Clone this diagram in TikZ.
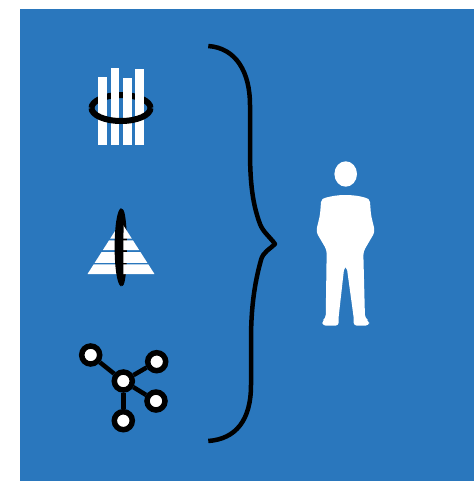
\documentclass[tikz,border=0pt]{standalone}
\usepackage{tikz}
\usetikzlibrary{positioning, calc}
\definecolor{PanelBlue}{HTML}{2A77BD}

\begin{document}
\begin{tikzpicture}[
    x=0.02cm, y=-0.02cm,
    ringLine/.style={black, line width=1.2mm},
    barFill/.style={fill=white, draw=none},
    netNode/.style={circle, draw=black, fill=white, line width=1.1mm, minimum size=0.36cm, inner sep=0pt},
    netLink/.style={black, line width=0.9mm},
    braceLine/.style={black, line width=0.9mm, line join=round},
  ]
  \useasboundingbox (0,0) rectangle (474,481);
  % panel
  \fill[PanelBlue] (20,9) rectangle (474,481);

  % bars with ring (back half, bars, front half)
  \draw[ringLine] (91.5,108) arc[start angle=180, end angle=360, x radius=29.5, y radius=13];
  \foreach \xa/\xb/\ytop in {98/106.5/76.5, 110.7/119.3/67.7, 122.7/131.5/78, 135/144/69}
    \fill[barFill] (\xa,\ytop) rectangle (\xb,145);
  \draw[ringLine] (91.5,108) arc[start angle=180, end angle=0, x radius=29.5, y radius=13];

  % pyramid with ring
  \draw[black, line width=0.8mm] (121,284.5) arc[start angle=90, end angle=-90, x radius=4, y radius=37];
  \foreach \ya/\yb in {221.7/238.6, 240.4/250.2, 252/262.9, 264.3/274} {
    \pgfmathsetmacro{\wa}{0.64*(\ya-221.7)}
    \pgfmathsetmacro{\wb}{0.64*(\yb-221.7)}
    \fill[white] (121-\wa,\ya) -- (121+\wa,\ya) -- (121+\wb,\yb) -- (121-\wb,\yb) -- cycle;
  }
  \fill[black] (121,208) .. controls (112.5,212) and (112.5,282) .. (121,286.5)
    .. controls (124,284) and (123.3,268) .. (123.3,247)
    .. controls (123.3,226) and (125,211) .. (121,208) -- cycle;

  % network
  \node[netNode] (hub) at (123.3,381) {};
  \node[netNode] (nodeA) at (90.7,355) {};
  \node[netNode] (nodeB) at (156.7,361.7) {};
  \node[netNode] (nodeC) at (156,401) {};
  \node[netNode] (nodeD) at (123.3,420.7) {};
  \foreach \n in {nodeA, nodeB, nodeC, nodeD}
    \draw[netLink] (hub) -- (\n);

  % brace
  \draw[braceLine] (208.3,46) .. controls (236,48) and (250,72) .. (250,105)
    -- (250,150) .. controls (250,185) and (253,205) .. (260,224)
    .. controls (263,232) and (270,237) .. (275,244)
    .. controls (270,249) and (263,252) .. (261,260)
    .. controls (254,285) and (251,310) .. (251,340)
    -- (251,385) .. controls (251,420) and (236,439) .. (208.3,441);

  % person
  \fill[white] (345.7,174) ellipse[x radius=11.3, y radius=12.7];
  \fill[white, rounded corners=2pt] (371,215) -- (375,231.7) -- (363.3,251.7)
    -- (365,318.3) -- (369,320.7) -- (369,325.7)
    -- (353.3,325.7) -- (354,320) -- (346.7,266.7) -- (344.3,266.7) -- (338.3,320)
    -- (339,325.7) -- (322.3,325.7) -- (322.3,320.7) -- (325.7,318.3) -- (326.7,250)
    -- (316,231.7) -- (320,215) {[sharp corners] -- (321,202)
    .. controls (321.5,199) and (323,198.3) .. (326,197.6)
    .. controls (332,196) and (338,195) .. (345,195)
    .. controls (353,195) and (360,196) .. (365,197.6)
    .. controls (368,198.3) and (369.3,199) .. (370,202)} -- cycle;
\end{tikzpicture}
\end{document}
